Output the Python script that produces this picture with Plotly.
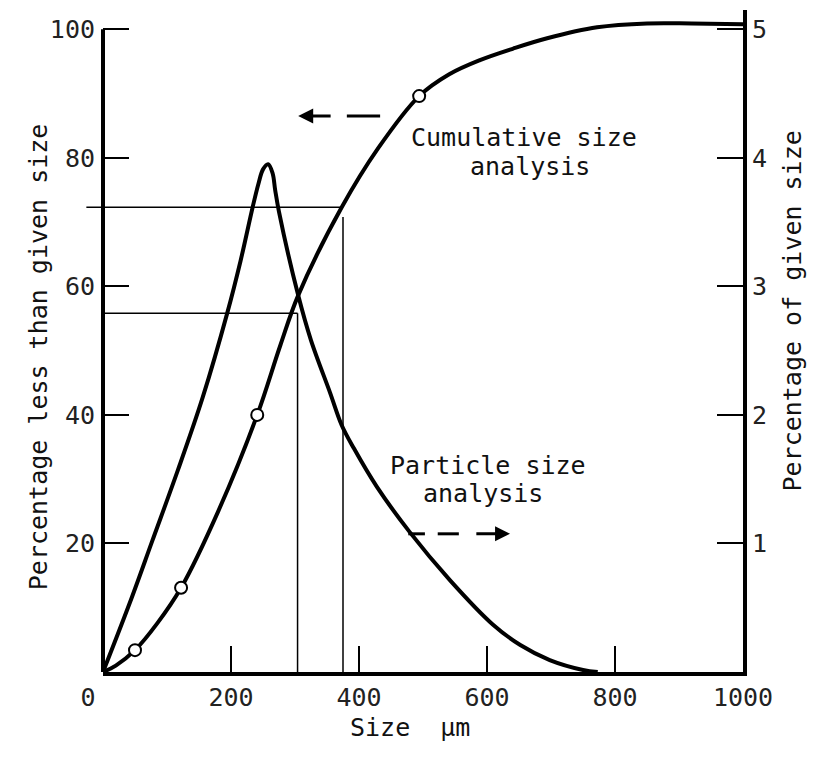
import plotly.graph_objects as go

# ---------------- data ----------------
# Cumulative size analysis (left axis: percentage less than given size)
CUM_SIZE = [0, 20, 50, 85, 122, 180, 241, 277, 305, 373, 430, 494, 541, 589, 641, 694, 772, 850, 920, 1000]
CUM_PCT = [0, 1.0, 3.4, 7.6, 13.1, 25.0, 40.0, 50.8, 58.6, 72.3, 81.5, 89.6, 93.0, 95.2, 97.0, 98.6, 100.3, 100.9, 100.9, 100.8]
# measured points (open circles)
PTS_SIZE = [50, 122, 241, 494]
PTS_PCT = [3.4, 13.1, 40.0, 89.6]

# Particle size analysis (right axis: percentage of given size)
PSD_SIZE = [0, 45, 77, 117, 156, 194, 215, 234, 243, 250, 258, 265, 269, 275, 305, 325, 355, 373, 392, 428, 479, 542, 609, 652, 698, 750, 773]
PSD_PCT = [0, 0.58, 1.02, 1.57, 2.14, 2.79, 3.20, 3.62, 3.80, 3.91, 3.95, 3.88, 3.75, 3.58, 2.93, 2.58, 2.17, 1.92, 1.74, 1.44, 1.09, 0.715, 0.37, 0.21, 0.093, 0.016, 0]

# construction lines (size, percentage)
UPPER_SIZE, UPPER_PCT, UPPER_VTOP, UPPER_HSTART = 375, 72.3, 70.8, -26
LOWER_SIZE, LOWER_PCT = 304, 55.8

X_MIN, X_MAX = 0, 1000
X_TICKS = [0, 200, 400, 600, 800, 1000]
X_TICK_TEXT = ["0\u00a0\u00a0", "200", "400", "600", "800", "1000"]
Y_TICKS = [20, 40, 60, 80, 100]
Y2_TICKS = [1, 2, 3, 4, 5]
Y_MAX = 103
Y2_MAX = 5.15

FONT = "DejaVu Sans Mono"
TXT = "#111111"

fig = go.Figure()
fig.add_trace(go.Scatter(x=CUM_SIZE, y=CUM_PCT, mode="lines", yaxis="y",
                         line=dict(color="black", width=4, shape="spline", smoothing=1.0),
                         showlegend=False, hoverinfo="skip"))
fig.add_trace(go.Scatter(x=PTS_SIZE, y=PTS_PCT, mode="markers", yaxis="y",
                         marker=dict(symbol="circle", size=12, color="white",
                                     line=dict(color="black", width=2)),
                         showlegend=False, hoverinfo="skip"))
fig.add_trace(go.Scatter(x=PSD_SIZE, y=PSD_PCT, mode="lines", yaxis="y2",
                         line=dict(color="black", width=4, shape="spline", smoothing=1.0),
                         showlegend=False, hoverinfo="skip"))

thin = dict(color="black", width=1.5)
# construction lines (upper horizontal one starts a little left of the axis)
fig.add_shape(type="line", xref="paper", yref="y",
              x0=(UPPER_HSTART - X_MIN) / (X_MAX - X_MIN), x1=(UPPER_SIZE - X_MIN) / (X_MAX - X_MIN),
              y0=UPPER_PCT, y1=UPPER_PCT, line=thin)
fig.add_shape(type="line", xref="x", yref="y", x0=UPPER_SIZE, x1=UPPER_SIZE, y0=0, y1=UPPER_VTOP, line=thin)
fig.add_shape(type="line", xref="x", yref="y", x0=0, x1=LOWER_SIZE, y0=LOWER_PCT, y1=LOWER_PCT, line=thin)
fig.add_shape(type="line", xref="x", yref="y", x0=LOWER_SIZE, x1=LOWER_SIZE, y0=0, y1=LOWER_PCT, line=thin)

# left axis line (stops at 100)
fig.add_shape(type="line", xref="paper", yref="paper", x0=0, x1=0, y0=0, y1=Y_TICKS[-1] / Y_MAX,
              line=dict(color="black", width=4))

# dashed arrows
ARROW_UP_Y = 86.5
UP_DASHES = [(381, 433)]
UP_ARROW = (358, 305)
ARROW_LO_Y = 21.5
LO_DASHES = [(477, 503), (523, 556)]
LO_ARROW = (581, 636)

seg = dict(color="black", width=3)
for a, b in UP_DASHES:
    fig.add_shape(type="line", xref="x", yref="y", x0=a, x1=b, y0=ARROW_UP_Y, y1=ARROW_UP_Y, line=seg)
for a, b in LO_DASHES:
    fig.add_shape(type="line", xref="x", yref="y", x0=a, x1=b, y0=ARROW_LO_Y, y1=ARROW_LO_Y, line=seg)
for (a, b), yy in [(UP_ARROW, ARROW_UP_Y), (LO_ARROW, ARROW_LO_Y)]:
    fig.add_annotation(x=b, y=yy, ax=a, ay=yy, xref="x", yref="y", axref="x", ayref="y",
                       text="", showarrow=True, arrowhead=2, arrowsize=1.0, arrowwidth=3,
                       arrowcolor="black", standoff=0)

# curve labels
lab = dict(family=FONT, size=25, color=TXT)
ctr = dict(showarrow=False, font=lab, xanchor="center", yanchor="middle")
fig.add_annotation(x=658, y=83.2, xref="x", yref="y", text="Cumulative size", **ctr)
fig.add_annotation(x=667, y=78.7, xref="x", yref="y", text="analysis", **ctr)
fig.add_annotation(x=602, y=32.2, xref="x", yref="y", text="Particle size", **ctr)
fig.add_annotation(x=594, y=27.7, xref="x", yref="y", text="analysis", **ctr)

# axis titles
fig.add_annotation(x=-0.1016, y=0.477, xref="paper", yref="paper", text="Percentage less than given size",
                   textangle=-90, **ctr)
fig.add_annotation(x=1.077, y=0.545, xref="paper", yref="paper", text="Percentage of given size",
                   textangle=-90, **ctr)
fig.add_annotation(x=0.48, y=-0.084, xref="paper", yref="paper", text="Size\u00a0\u00a0μm", **ctr)

tickfont = dict(family=FONT, size=25, color="#222222")
common = dict(ticks="inside", ticklen=26, tickwidth=2, tickcolor="black", showgrid=False,
              zeroline=False, tickfont=tickfont)
fig.update_layout(
    width=801, height=741,
    margin=dict(l=95, r=66, t=2, b=77),
    plot_bgcolor="white", paper_bgcolor="white",
    xaxis=dict(range=[X_MIN, X_MAX], tickvals=X_TICKS, ticktext=X_TICK_TEXT, showline=True,
               linewidth=4, linecolor="black", ticklabelstandoff=0, **common),
    yaxis=dict(range=[0, Y_MAX], tickvals=Y_TICKS, showline=False, ticklabelstandoff=7, **common),
    yaxis2=dict(range=[0, Y2_MAX], tickvals=Y2_TICKS, overlaying="y", side="right", showline=True,
                linewidth=4, linecolor="black", ticklabelstandoff=0, **common),
)

fig.write_html("out.html")
